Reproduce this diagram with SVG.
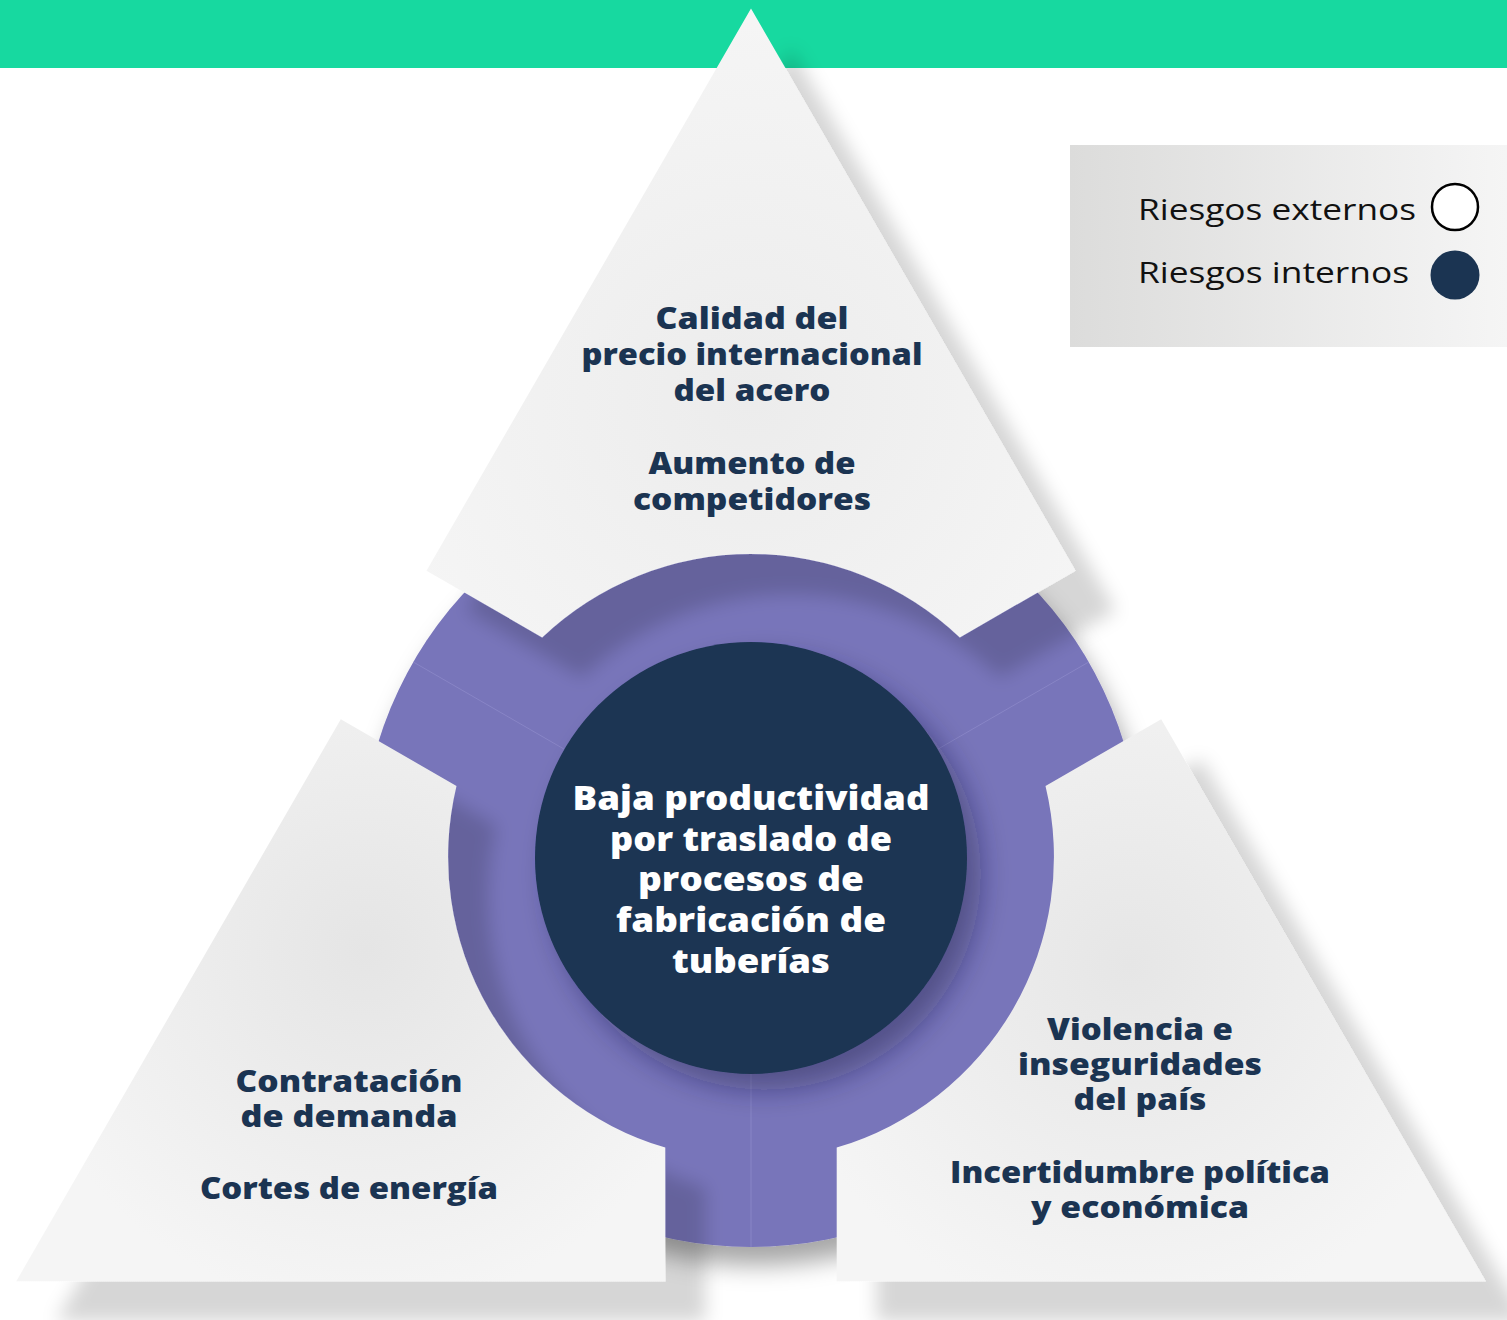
<svg xmlns="http://www.w3.org/2000/svg" width="1507" height="1320" viewBox="0 0 1507 1320">
  <style>
    .k { font-family: "Open Sans", "Liberation Sans", sans-serif; font-weight: 800; font-size: 30px; fill: #1B3452; text-anchor: middle; }
    .c { font-family: "Open Sans", "Liberation Sans", sans-serif; font-weight: 800; font-size: 34px; fill: #FFFFFF; text-anchor: middle; }
    .lg { font-family: "Open Sans", "Liberation Sans", sans-serif; font-weight: 500; font-size: 30px; fill: #111111; }
    .seam { stroke: #9591CF; stroke-width: 1; opacity: 0.55; fill: none; }
  </style>
  <defs>
    <filter id="kiteShadow" x="-20%" y="-20%" width="140%" height="140%">
      <feDropShadow dx="40" dy="40" stdDeviation="9" flood-color="#000" flood-opacity="0.16"/>
    </filter>
    <filter id="purpleShadow" x="-20%" y="-20%" width="140%" height="140%">
      <feDropShadow dx="6" dy="18" stdDeviation="12" flood-color="#000" flood-opacity="0.35"/>
    </filter>
    <filter id="coreShadow" x="-30%" y="-30%" width="160%" height="160%">
      <feDropShadow dx="14" dy="16" stdDeviation="14" flood-color="#1a1840" flood-opacity="0.4"/>
    </filter>
    <radialGradient id="gTop" gradientUnits="userSpaceOnUse" cx="751" cy="400" r="380">
      <stop offset="0" stop-color="#ECECEC"/>
      <stop offset="1" stop-color="#F5F5F5"/>
    </radialGradient>
    <radialGradient id="gLL" gradientUnits="userSpaceOnUse" cx="366" cy="950" r="360">
      <stop offset="0" stop-color="#E5E5E5"/>
      <stop offset="1" stop-color="#F5F5F5"/>
    </radialGradient>
    <radialGradient id="gLR" gradientUnits="userSpaceOnUse" cx="1130" cy="965" r="360">
      <stop offset="0" stop-color="#E6E6E6"/>
      <stop offset="1" stop-color="#F5F5F5"/>
    </radialGradient>
    <linearGradient id="gLegend" x1="0" y1="0" x2="1" y2="0">
      <stop offset="0" stop-color="#DCDCDB"/>
      <stop offset="1" stop-color="#F5F5F5"/>
    </linearGradient>
  </defs>

  <rect x="0" y="0" width="1507" height="1320" fill="#FFFFFF"/>
  <rect id="topbar" x="0" y="0" width="1507" height="68" fill="#17D9A0"/>

  <g id="ring" filter="url(#purpleShadow)">
    <circle cx="751" cy="857" r="390" fill="#7874BA"/>
  </g>

  <g id="connectors">
    <line class="seam" x1="751" y1="1073" x2="751" y2="1247"/>
    <line class="seam" x1="563.9" y1="749" x2="413.3" y2="662"/>
    <line class="seam" x1="938.1" y1="749" x2="1088.7" y2="662"/>
  </g>

  <g id="kite-top" filter="url(#kiteShadow)">
    <path d="M751,8.6 L1075.5,570.65 L959.8,637.45 A303,303 0 0 0 542.2,637.45 L426.5,570.65 Z" fill="url(#gTop)"/>
  </g>
  <g id="kite-left" filter="url(#kiteShadow)">
    <path d="M16.3,1281.2 L340.8,719.2 L456.5,786 A303,303 0 0 0 665.3,1147.6 L665.3,1281.2 Z" fill="url(#gLL)"/>
  </g>
  <g id="kite-right" filter="url(#kiteShadow)">
    <path d="M1485.7,1281.2 L1161.2,719.2 L1045.5,786 A303,303 0 0 1 836.7,1147.6 L836.7,1281.2 Z" fill="url(#gLR)"/>
  </g>

  <g id="core" filter="url(#coreShadow)">
    <circle cx="751" cy="858" r="216" fill="#1B3452"/>
  </g>

  <g id="core-text">
    <text class="c" x="751" y="810" textLength="357" lengthAdjust="spacingAndGlyphs">Baja productividad</text>
    <text class="c" x="751" y="851" textLength="282" lengthAdjust="spacingAndGlyphs">por traslado de</text>
    <text class="c" x="751" y="891" textLength="226" lengthAdjust="spacingAndGlyphs">procesos de</text>
    <text class="c" x="751" y="932" textLength="270" lengthAdjust="spacingAndGlyphs">fabricación de</text>
    <text class="c" x="751" y="973" textLength="158" lengthAdjust="spacingAndGlyphs">tuberías</text>
  </g>

  <g id="top-text">
    <text class="k" x="752" y="329" textLength="193" lengthAdjust="spacingAndGlyphs">Calidad del</text>
    <text class="k" x="752" y="365" textLength="341" lengthAdjust="spacingAndGlyphs">precio internacional</text>
    <text class="k" x="752" y="401" textLength="157" lengthAdjust="spacingAndGlyphs">del acero</text>
    <text class="k" x="752" y="474" textLength="207" lengthAdjust="spacingAndGlyphs">Aumento de</text>
    <text class="k" x="752" y="510" textLength="238" lengthAdjust="spacingAndGlyphs">competidores</text>
  </g>

  <g id="left-text">
    <text class="k" x="349" y="1092" textLength="227" lengthAdjust="spacingAndGlyphs">Contratación</text>
    <text class="k" x="349" y="1127" textLength="217" lengthAdjust="spacingAndGlyphs">de demanda</text>
    <text class="k" x="349" y="1199" textLength="298" lengthAdjust="spacingAndGlyphs">Cortes de energía</text>
  </g>

  <g id="right-text">
    <text class="k" x="1140" y="1040" textLength="186" lengthAdjust="spacingAndGlyphs">Violencia e</text>
    <text class="k" x="1140" y="1075" textLength="244" lengthAdjust="spacingAndGlyphs">inseguridades</text>
    <text class="k" x="1140" y="1110" textLength="133" lengthAdjust="spacingAndGlyphs">del país</text>
    <text class="k" x="1140" y="1183" textLength="380" lengthAdjust="spacingAndGlyphs">Incertidumbre política</text>
    <text class="k" x="1140" y="1218" textLength="218" lengthAdjust="spacingAndGlyphs">y económica</text>
  </g>

  <g id="legend">
    <rect x="1070" y="145" width="437" height="202" fill="url(#gLegend)"/>
    <text class="lg" x="1138" y="220" textLength="278" lengthAdjust="spacingAndGlyphs">Riesgos externos</text>
    <circle cx="1455" cy="207" r="23" fill="#FFFFFF" stroke="#000000" stroke-width="2.5"/>
    <text class="lg" x="1138" y="283" textLength="271" lengthAdjust="spacingAndGlyphs">Riesgos internos</text>
    <circle cx="1455" cy="275" r="24.5" fill="#1B3452"/>
  </g>
</svg>
